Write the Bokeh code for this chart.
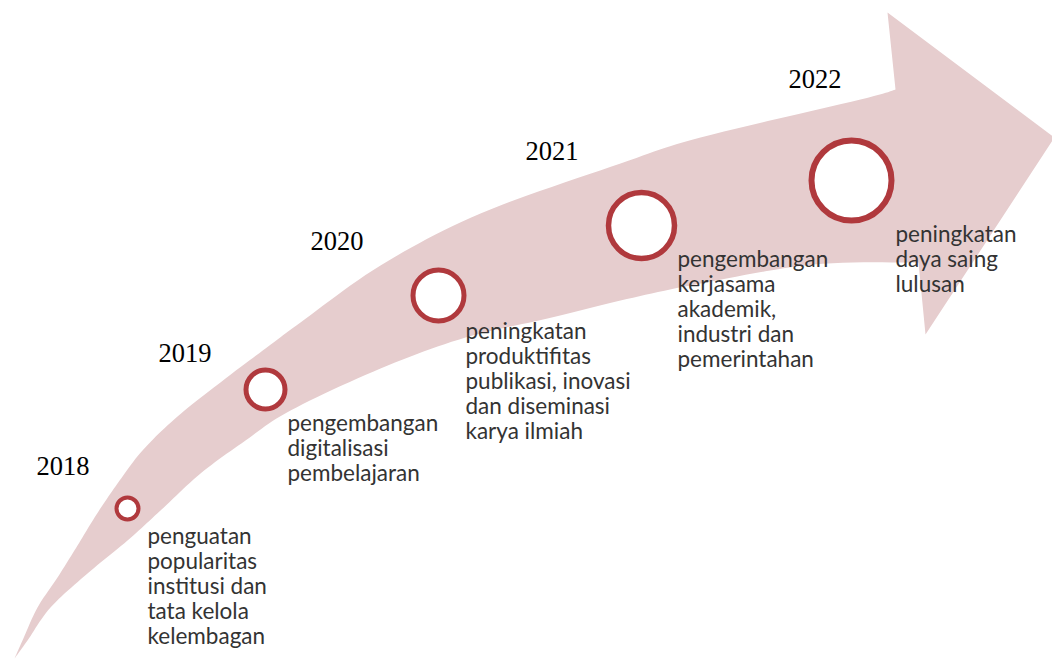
import numpy as np
from bokeh.plotting import figure
from bokeh.models import Range1d
from bokeh.core.properties import value
from bokeh.embed import file_html
from bokeh.resources import INLINE

# ---- data ----
years = ["2018", "2019", "2020", "2021", "2022"]
descriptions = [
    "penguatan\npopularitas\ninstitusi dan\ntata kelola\nkelembagan",
    "pengembangan\ndigitalisasi\npembelajaran",
    "peningkatan\nproduktifitas\npublikasi, inovasi\ndan diseminasi\nkarya ilmiah",
    "pengembangan\nkerjasama\nakademik,\nindustri dan\npemerintahan",
    "peningkatan\ndaya saing\nlulusan",
]

# ---- layout (pixel-like coordinates, y downwards) ----
circle_x = [127, 265, 438, 641, 851]
circle_y = [508, 389, 295, 225, 180]
circle_r = [11, 19.5, 25.5, 33, 40]
circle_w = [4, 5, 5, 5.5, 6]
year_x = [36, 158, 310, 525, 788]
year_y = [465, 352, 240, 150, 78]
desc_x = [147, 287, 465, 677, 895]
desc_y = [521, 408, 316, 244, 219]

upper_pts = [(14, 658), (22, 640), (37, 607), (57, 577), (77, 545), (96, 514),
             (117, 483), (142, 450), (177, 416), (225, 378), (265, 348), (300, 322),
             (380, 265), (480, 213), (620, 163), (700, 137), (860, 99), (895, 89)]
head_pts = [(887, 12), (1054, 137), (925, 334), (918, 262)]
lower_pts = [(918, 262), (813, 264), (700, 283), (620, 300), (547, 318), (465, 337),
             (380, 368), (290, 410), (245, 440), (200, 473), (160, 510), (127, 540),
             (87, 573), (50, 607), (27, 640), (14, 658)]


def smooth(pts, n=12):
    pts = np.asarray(pts, dtype=float)
    P = np.vstack([pts[0], pts, pts[-1]])
    out = []
    for i in range(1, len(P) - 2):
        p0, p1, p2, p3 = P[i - 1], P[i], P[i + 1], P[i + 2]
        for t in np.linspace(0, 1, n, endpoint=False):
            t2, t3 = t * t, t * t * t
            out.append(0.5 * ((2 * p1) + (-p0 + p2) * t +
                              (2 * p0 - 5 * p1 + 4 * p2 - p3) * t2 +
                              (-p0 + 3 * p1 - 3 * p2 + p3) * t3))
    out.append(P[-2])
    return np.array(out)


up = smooth(upper_pts)
lo = smooth(lower_pts)
xs = list(up[:, 0]) + [p[0] for p in head_pts] + list(lo[1:, 0])
ys = list(up[:, 1]) + [p[1] for p in head_pts] + list(lo[1:, 1])

p = figure(width=1052, height=659, x_range=Range1d(0, 1052), y_range=Range1d(659, 0),
           output_backend="svg", toolbar_location=None, min_border=0)
p.axis.visible = False
p.grid.visible = False
p.outline_line_color = None
p.background_fill_color = "white"
p.border_fill_color = "white"

p.patch(xs, ys, fill_color="#e6cdce", line_color=None)

p.circle(x=circle_x, y=circle_y, radius=circle_r, fill_color="white",
         line_color="#b0393d", line_width=circle_w)

p.text(x=year_x, y=year_y, text=years, text_font=value("Liberation Serif"),
       text_font_size="26.5px", text_color="black", text_align="left",
       text_baseline="middle")

p.text(x=desc_x, y=desc_y, text=descriptions, text_font=value("Lato"),
       text_font_size="22.5px", text_color="#333333", text_align="left",
       text_baseline="top", text_line_height=0.93)

open("out.html", "w").write(file_html(p, INLINE))
